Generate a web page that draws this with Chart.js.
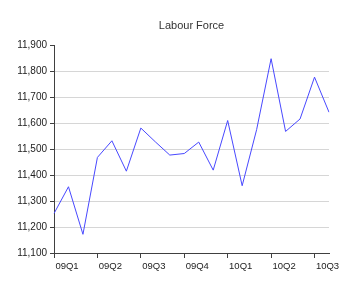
<!DOCTYPE html>
<html>
<head>
<meta charset="utf-8">
<script src="https://cdn.jsdelivr.net/npm/chart.js@4.4.0/dist/chart.umd.min.js"></script>
<style>
  body { margin: 0; background: #fff; }
  #wrap { width: 360px; height: 288px; }
</style>
</head>
<body>
<div id="wrap"><canvas id="chart"></canvas></div>
<script>
// Monthly observations, Jan 2009 - Aug 2010
const months = ['2009-01', '2009-02', '2009-03', '2009-04', '2009-05', '2009-06',
                '2009-07', '2009-08', '2009-09', '2009-10', '2009-11', '2009-12',
                '2010-01', '2010-02', '2010-03', '2010-04', '2010-05', '2010-06',
                '2010-07', '2010-08'];
const labourForce = [11252, 11355, 11172, 11468, 11532, 11415,
                     11581, 11528, 11477, 11483, 11527, 11419,
                     11610, 11359, 11575, 11848, 11568, 11616,
                     11777, 11642];
const quarterTicks = ['09Q1', '09Q2', '09Q3', '09Q4', '10Q1', '10Q2', '10Q3'];

Chart.defaults.font.family = 'Arial, "Liberation Sans", sans-serif';
Chart.defaults.color = '#222';

// centre the title over the plot area instead of the whole canvas
const titleOverPlot = {
    id: 'titleOverPlot',
    afterLayout(chart) {
        if (chart.titleBlock) {
            chart.titleBlock.left = chart.chartArea.left;
            chart.titleBlock.right = chart.chartArea.right;
        }
    }
};

new Chart(document.getElementById('chart'), {
    type: 'line',
    data: {
        labels: months,
        datasets: [{
            label: 'Labour Force',
            data: labourForce,
            borderColor: '#4848ff',
            borderWidth: 1,
            tension: 0,
            pointRadius: 0,
            fill: false
        }]
    },
    options: {
        responsive: true,
        maintainAspectRatio: false,
        animation: false,
        layout: {
            padding: { top: 19, right: 31, bottom: 0, left: 0 }
        },
        scales: {
            x: {
                offset: false,
                grid: {
                    drawOnChartArea: false,
                    tickLength: 5,
                    tickColor: '#404040'
                },
                border: { color: '#404040', width: 1 },
                ticks: {
                    autoSkip: false,
                    maxRotation: 0,
                    padding: 3,
                    labelOffset: 13,
                    font: { size: 9.5 },
                    callback: function(value, index) {
                        return index % 3 === 0 ? quarterTicks[index / 3] : null;
                    }
                },
                afterFit: function(scale) { scale.height = 35; }
            },
            y: {
                min: 11100,
                max: 11900,
                grid: {
                    color: ctx => (ctx.tick && ctx.tick.value === 11900) ? 'rgba(0,0,0,0)' : '#d6d6d6',
                    tickColor: '#404040',
                    tickLength: 4
                },
                border: { color: '#404040', width: 1 },
                ticks: {
                    stepSize: 100,
                    padding: 3,
                    font: { size: 10 },
                    callback: v => v.toLocaleString('en-US')
                },
                afterFit: function(scale) { scale.width = 54; }
            }
        },
        plugins: {
            legend: { display: false },
            tooltip: { enabled: false },
            title: {
                display: true,
                text: 'Labour Force',
                color: '#333',
                font: { size: 11, weight: 'normal' },
                padding: { top: 0, bottom: 13 }
            }
        }
    },
    plugins: [titleOverPlot]
});
</script>
</body>
</html>
